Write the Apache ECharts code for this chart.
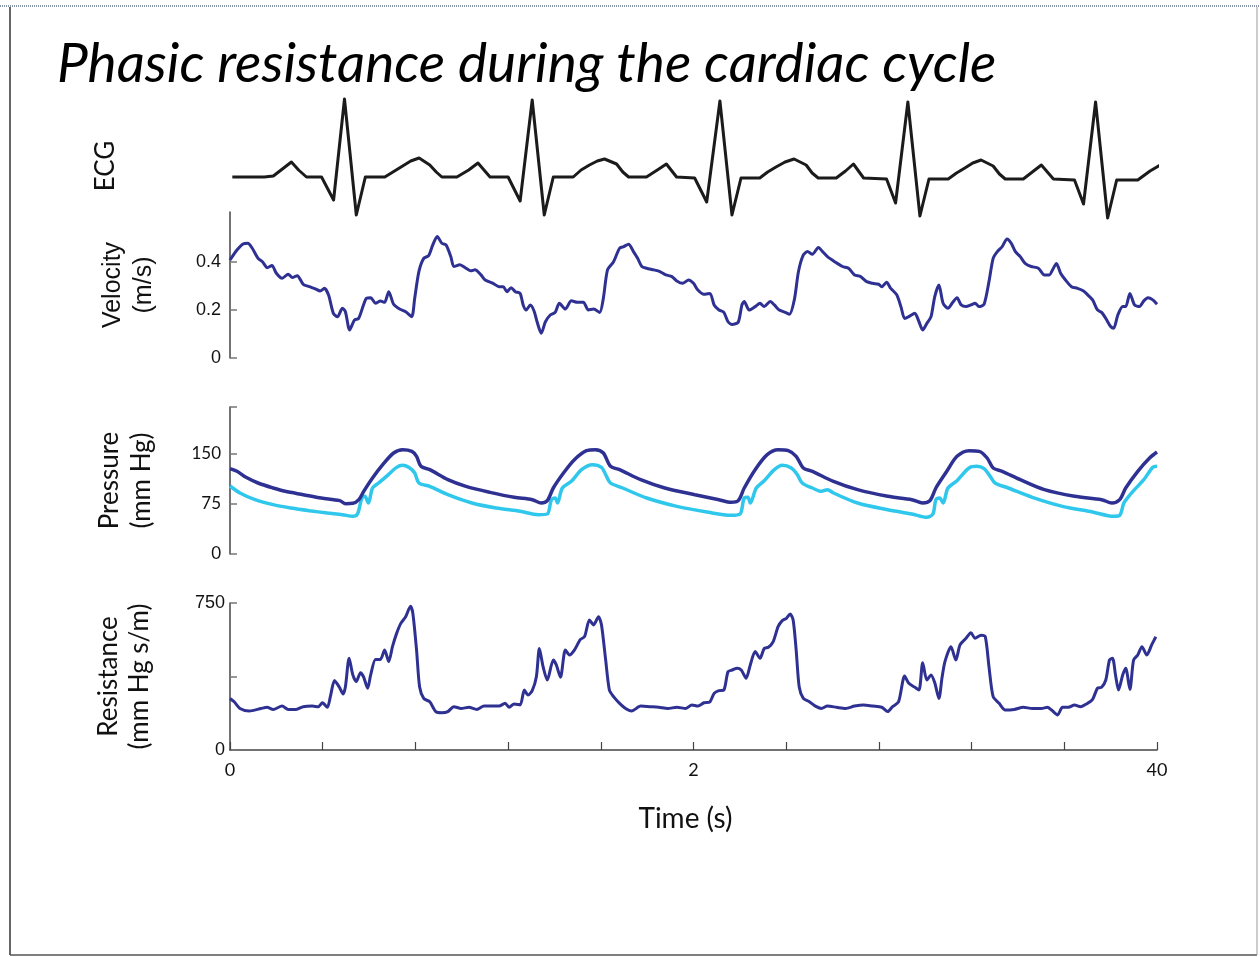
<!DOCTYPE html>
<html>
<head>
<meta charset="utf-8">
<script src="https://cdn.jsdelivr.net/npm/echarts@6/dist/echarts.min.js"></script>
<style>
  html, body { margin: 0; padding: 0; background: #fff; }
  #chart { width: 1260px; height: 957px; }
</style>
</head>
<body>
<div id="chart"></div>
<script>
// ECG trace (time in s, amplitude in arbitrary units)
const ecgTime = [0.010, 0.148, 0.187, 0.226, 0.265, 0.296, 0.330, 0.395, 0.447, 0.494, 0.545, 0.584, 0.668, 0.710, 0.745, 0.780, 0.816, 0.862, 0.890, 0.914, 0.979, 1.030, 1.070, 1.122, 1.200, 1.252, 1.304, 1.356, 1.395, 1.481, 1.515, 1.551, 1.585, 1.616, 1.668, 1.695, 1.720, 1.797, 1.844, 1.883, 1.927, 2.005, 2.057, 2.114, 2.166, 2.205, 2.286, 2.320, 2.356, 2.395, 2.434, 2.486, 2.512, 2.538, 2.616, 2.656, 2.690, 2.734, 2.833, 2.872, 2.925, 2.977, 3.016, 3.099, 3.135, 3.171, 3.205, 3.241, 3.293, 3.320, 3.345, 3.423, 3.462, 3.501, 3.553, 3.644, 3.683, 3.735, 3.787, 3.826, 3.917, 3.970, 4.021];
const ecgAmp = [0, 0, 1, 8, 15, 7, 0, 0, -23, 78, -38, 0, 0, 6, 11, 16, 19, 12, 5, 0, 0, 7, 14, 0, 0, -24, 77, -38, 0, 0, 7, 12, 16, 18, 13, 5, 0, 0, 7, 13, 0, -1, -25, 76, -38, -1, -1, 5, 10, 15, 18, 12, 4, -1, -1, 6, 13, -1, -2, -26, 75, -39, -2, -2, 4, 9, 14, 17, 11, 3, -2, -2, 5, 12, -2, -3, -27, 75, -41, -3, -3, 6, 13];

// Velocity (m/s)
const velTime = [0, 0.030, 0.056, 0.077, 0.096, 0.121, 0.140, 0.161, 0.181, 0.200, 0.225, 0.251, 0.269, 0.290, 0.316, 0.342, 0.368, 0.389, 0.407, 0.425, 0.446, 0.464, 0.485, 0.498, 0.516, 0.537, 0.555, 0.576, 0.589, 0.607, 0.628, 0.649, 0.667, 0.685, 0.706, 0.732, 0.758, 0.784, 0.797, 0.815, 0.836, 0.857, 0.875, 0.894, 0.914, 0.932, 0.953, 0.966, 0.992, 1.018, 1.039, 1.057, 1.083, 1.101, 1.135, 1.161, 1.179, 1.195, 1.213, 1.231, 1.252, 1.265, 1.278, 1.296, 1.312, 1.325, 1.343, 1.361, 1.382, 1.403, 1.421, 1.447, 1.473, 1.499, 1.525, 1.546, 1.569, 1.595, 1.611, 1.629, 1.655, 1.681, 1.699, 1.720, 1.741, 1.759, 1.777, 1.798, 1.829, 1.855, 1.881, 1.907, 1.928, 1.953, 1.979, 2.000, 2.019, 2.045, 2.071, 2.089, 2.110, 2.131, 2.149, 2.167, 2.193, 2.209, 2.219, 2.240, 2.266, 2.287, 2.305, 2.331, 2.349, 2.370, 2.396, 2.414, 2.435, 2.453, 2.474, 2.492, 2.513, 2.539, 2.557, 2.578, 2.609, 2.643, 2.669, 2.695, 2.721, 2.747, 2.773, 2.799, 2.812, 2.833, 2.851, 2.877, 2.895, 2.911, 2.929, 2.955, 2.973, 2.989, 3.007, 3.025, 3.041, 3.059, 3.077, 3.098, 3.119, 3.137, 3.155, 3.176, 3.197, 3.215, 3.233, 3.254, 3.275, 3.293, 3.311, 3.332, 3.353, 3.371, 3.389, 3.410, 3.431, 3.457, 3.488, 3.514, 3.535, 3.553, 3.566, 3.584, 3.605, 3.631, 3.657, 3.683, 3.701, 3.722, 3.743, 3.761, 3.779, 3.800, 3.813, 3.831, 3.852, 3.865, 3.883, 3.903, 3.924, 3.943, 3.961, 3.982, 4.000];
const velValue = [0.408, 0.450, 0.475, 0.478, 0.457, 0.415, 0.401, 0.376, 0.385, 0.353, 0.332, 0.349, 0.335, 0.343, 0.307, 0.297, 0.288, 0.279, 0.290, 0.263, 0.186, 0.172, 0.207, 0.193, 0.117, 0.158, 0.165, 0.221, 0.249, 0.251, 0.228, 0.237, 0.232, 0.276, 0.224, 0.204, 0.193, 0.172, 0.249, 0.360, 0.415, 0.426, 0.471, 0.506, 0.478, 0.471, 0.422, 0.381, 0.388, 0.374, 0.363, 0.367, 0.346, 0.325, 0.311, 0.297, 0.297, 0.276, 0.293, 0.276, 0.269, 0.221, 0.200, 0.221, 0.196, 0.151, 0.103, 0.151, 0.179, 0.190, 0.228, 0.204, 0.238, 0.232, 0.232, 0.200, 0.204, 0.190, 0.249, 0.367, 0.401, 0.457, 0.464, 0.474, 0.443, 0.415, 0.381, 0.374, 0.367, 0.360, 0.346, 0.339, 0.321, 0.311, 0.325, 0.311, 0.283, 0.265, 0.269, 0.221, 0.200, 0.190, 0.151, 0.140, 0.149, 0.221, 0.235, 0.200, 0.214, 0.228, 0.214, 0.235, 0.221, 0.200, 0.190, 0.182, 0.242, 0.360, 0.429, 0.443, 0.432, 0.460, 0.443, 0.422, 0.401, 0.381, 0.374, 0.346, 0.339, 0.318, 0.311, 0.307, 0.297, 0.315, 0.290, 0.263, 0.214, 0.165, 0.172, 0.186, 0.151, 0.117, 0.144, 0.172, 0.256, 0.304, 0.228, 0.207, 0.232, 0.251, 0.221, 0.214, 0.221, 0.228, 0.214, 0.224, 0.318, 0.415, 0.443, 0.464, 0.496, 0.478, 0.443, 0.422, 0.394, 0.381, 0.374, 0.346, 0.346, 0.374, 0.394, 0.353, 0.325, 0.297, 0.290, 0.279, 0.263, 0.242, 0.200, 0.190, 0.165, 0.131, 0.124, 0.179, 0.214, 0.214, 0.269, 0.221, 0.214, 0.238, 0.251, 0.242, 0.224];

// Pressure (mm Hg), upper dark trace
const pressHiTime = [0, 0.030, 0.069, 0.121, 0.186, 0.238, 0.316, 0.394, 0.473, 0.499, 0.530, 0.556, 0.577, 0.615, 0.659, 0.706, 0.745, 0.785, 0.805, 0.824, 0.862, 0.940, 1.018, 1.122, 1.226, 1.304, 1.343, 1.369, 1.395, 1.439, 1.486, 1.538, 1.577, 1.611, 1.642, 1.681, 1.772, 1.876, 2.006, 2.110, 2.162, 2.193, 2.219, 2.266, 2.318, 2.365, 2.409, 2.443, 2.474, 2.513, 2.604, 2.708, 2.838, 2.942, 2.989, 3.020, 3.046, 3.093, 3.137, 3.189, 3.233, 3.267, 3.293, 3.332, 3.410, 3.514, 3.644, 3.761, 3.805, 3.839, 3.865, 3.917, 3.968, 4.000];
const pressHi = [128, 124, 115, 106.5, 99, 94, 89, 84, 80, 75.5, 76, 81.5, 94, 114, 134, 151.5, 156.5, 154, 146.5, 131.5, 126.5, 111.5, 101.5, 92.5, 85, 81.5, 76.5, 80, 99, 121.5, 141.5, 155, 156.5, 151.5, 131.5, 126.5, 111.5, 99, 89, 81.5, 77.5, 80, 99, 126.5, 149, 156.5, 155, 146.5, 129, 124, 109, 96.5, 86.5, 81.5, 76.5, 80, 99, 124, 146.5, 155, 154, 144, 129, 124, 111.5, 96.5, 86.5, 81.5, 76.5, 81.5, 99, 124, 144, 153];

// Pressure (mm Hg), lower cyan trace
const pressLoTime = [0, 0.043, 0.108, 0.186, 0.264, 0.342, 0.420, 0.485, 0.530, 0.550, 0.569, 0.582, 0.597, 0.615, 0.641, 0.675, 0.719, 0.745, 0.771, 0.797, 0.815, 0.862, 0.940, 1.044, 1.148, 1.252, 1.330, 1.369, 1.387, 1.403, 1.413, 1.434, 1.473, 1.517, 1.564, 1.603, 1.621, 1.642, 1.694, 1.798, 1.928, 2.058, 2.162, 2.201, 2.219, 2.235, 2.245, 2.271, 2.305, 2.349, 2.383, 2.422, 2.448, 2.469, 2.513, 2.552, 2.578, 2.604, 2.708, 2.838, 2.942, 3.007, 3.033, 3.046, 3.062, 3.077, 3.098, 3.137, 3.189, 3.223, 3.254, 3.280, 3.301, 3.358, 3.462, 3.592, 3.722, 3.813, 3.839, 3.857, 3.878, 3.903, 3.943, 3.982, 4.000];
const pressLo = [102, 91.5, 81.5, 74, 69, 65, 61.5, 59, 56.5, 60, 84, 86.5, 76.5, 99, 106.5, 116.5, 130, 133, 130, 121.5, 106.5, 101.5, 89, 76.5, 69, 64, 59, 60, 81.5, 84, 76.5, 99, 109, 126.5, 134, 130, 119, 106.5, 99, 84, 71.5, 63, 58, 60, 84, 85, 76.5, 99, 110, 126.5, 133, 129, 119, 106.5, 99, 94, 96.5, 91.5, 76.5, 66.5, 60, 55, 60, 81.5, 84, 76.5, 99, 110, 129, 131.5, 128, 116.5, 106.5, 99, 85, 71.5, 63, 56.5, 58, 76.5, 86.5, 96.5, 111.5, 130, 131.5];

// Resistance (mm Hg s/m)
const resTime = [0, 0.018, 0.043, 0.083, 0.134, 0.160, 0.186, 0.225, 0.251, 0.285, 0.316, 0.355, 0.381, 0.399, 0.420, 0.433, 0.451, 0.472, 0.488, 0.498, 0.514, 0.530, 0.545, 0.563, 0.576, 0.594, 0.607, 0.628, 0.649, 0.667, 0.685, 0.701, 0.719, 0.737, 0.758, 0.779, 0.789, 0.805, 0.818, 0.836, 0.862, 0.888, 0.914, 0.940, 0.966, 0.997, 1.031, 1.065, 1.096, 1.135, 1.161, 1.187, 1.205, 1.226, 1.252, 1.270, 1.286, 1.304, 1.322, 1.335, 1.351, 1.369, 1.395, 1.408, 1.426, 1.447, 1.465, 1.486, 1.512, 1.530, 1.551, 1.569, 1.590, 1.603, 1.621, 1.637, 1.655, 1.681, 1.707, 1.733, 1.772, 1.811, 1.850, 1.889, 1.928, 1.967, 1.993, 2.019, 2.045, 2.071, 2.089, 2.110, 2.131, 2.149, 2.167, 2.188, 2.206, 2.227, 2.245, 2.266, 2.287, 2.305, 2.323, 2.344, 2.365, 2.383, 2.401, 2.417, 2.430, 2.443, 2.456, 2.474, 2.500, 2.526, 2.552, 2.578, 2.617, 2.656, 2.695, 2.734, 2.773, 2.812, 2.838, 2.859, 2.885, 2.911, 2.929, 2.955, 2.973, 2.989, 3.007, 3.025, 3.041, 3.059, 3.072, 3.085, 3.111, 3.132, 3.150, 3.176, 3.197, 3.215, 3.241, 3.259, 3.275, 3.293, 3.319, 3.345, 3.384, 3.423, 3.462, 3.501, 3.527, 3.545, 3.571, 3.592, 3.618, 3.644, 3.670, 3.696, 3.722, 3.743, 3.761, 3.779, 3.795, 3.808, 3.821, 3.834, 3.852, 3.865, 3.883, 3.899, 3.917, 3.935, 3.956, 3.977, 3.995];
const resValue = [263, 246, 212, 199, 212, 218, 207, 224, 207, 207, 221, 224, 221, 241, 218, 272, 354, 320, 286, 323, 468, 383, 349, 394, 374, 315, 383, 462, 462, 510, 451, 527, 595, 646, 680, 734, 697, 510, 323, 263, 246, 196, 190, 196, 221, 212, 218, 207, 224, 224, 224, 238, 218, 235, 230, 306, 280, 303, 374, 518, 425, 357, 459, 434, 371, 510, 485, 510, 564, 578, 663, 638, 680, 638, 459, 306, 272, 238, 212, 199, 224, 221, 218, 212, 218, 212, 230, 224, 241, 246, 289, 303, 306, 400, 408, 417, 408, 366, 434, 502, 468, 518, 524, 553, 629, 660, 672, 694, 663, 510, 323, 263, 246, 224, 212, 224, 218, 212, 224, 230, 224, 218, 196, 221, 246, 377, 340, 320, 306, 445, 357, 383, 343, 263, 366, 451, 527, 459, 536, 570, 598, 570, 586, 578, 425, 272, 238, 204, 207, 218, 212, 212, 218, 204, 179, 218, 218, 230, 221, 235, 258, 315, 320, 357, 459, 468, 383, 306, 383, 417, 309, 459, 485, 527, 485, 536, 578, 595];

// x axis labels shown under the time axis
const timeLabelValues = [0, 2, 4];
const timeLabelText = ['0', '2', '40'];

const zip = (xs, ys) => xs.map((x, i) => [x, ys[i]]);

const DARK = '#2E3192';
const CYAN = '#2FC7EC';
const AXIS = '#444';
const CALIBRI = 'Lato, "Open Sans", sans-serif';
const ARIAL = '"Liberation Sans", Arial, sans-serif';

const chart = echarts.init(document.getElementById('chart'));

const gridLeft = 230;
const gridWidth = 927;

const hiddenX = (gridIndex) => ({
  type: 'value', gridIndex, min: 0, max: 4, show: false
});

const option = {
  backgroundColor: '#fff',
  animation: false,
  title: {
    text: 'Phasic resistance during the cardiac cycle',
    left: 52,
    top: 32,
    textStyle: {
      fontFamily: CALIBRI,
      fontStyle: 'italic',
      fontWeight: 'normal',
      fontSize: 55,
      color: '#000'
    }
  },
  graphic: [
    // page frame
    { type: 'line', shape: { x1: 0, y1: 6, x2: 1260, y2: 6 }, style: { stroke: '#8a97a8', lineWidth: 2, lineDash: [1, 1] } },
    { type: 'line', shape: { x1: 10, y1: 7, x2: 10, y2: 955 }, style: { stroke: '#333', lineWidth: 1.5 } },
    { type: 'line', shape: { x1: 10, y1: 955, x2: 1257, y2: 955 }, style: { stroke: '#555', lineWidth: 1.5 } },
    { type: 'line', shape: { x1: 1257, y1: 7, x2: 1257, y2: 955 }, style: { stroke: '#999', lineWidth: 1 } }
  ],
  grid: [
    { left: gridLeft, width: gridWidth, top: 97, height: 125 },   // ECG
    { left: gridLeft, width: gridWidth, top: 212, height: 146 },  // velocity
    { left: gridLeft, width: gridWidth, top: 407, height: 147 },  // pressure
    { left: gridLeft, width: gridWidth, top: 603, height: 147 }   // resistance
  ],
  xAxis: [
    hiddenX(0),
    hiddenX(1),
    hiddenX(2),
    {
      type: 'value',
      gridIndex: 3,
      min: 0,
      max: 4,
      interval: 0.4,
      name: 'Time (s)',
      nameLocation: 'middle',
      nameGap: 55,
      nameTextStyle: { fontFamily: CALIBRI, fontSize: 28, color: '#111', padding: [0, 16, 0, 0] },
      axisLine: { lineStyle: { color: AXIS, width: 1.5 } },
      axisTick: { inside: true, length: 8, lineStyle: { color: AXIS, width: 1.2 } },
      axisLabel: {
        customValues: timeLabelValues,
        formatter: (v) => timeLabelText[timeLabelValues.indexOf(v)],
        fontFamily: CALIBRI,
        fontSize: 18,
        color: '#111',
        margin: 11
      },
      splitLine: { show: false }
    }
  ],
  yAxis: [
    {
      type: 'value', gridIndex: 0, min: -45, max: 80,
      name: 'ECG', nameLocation: 'middle', nameRotate: 90, nameGap: 111,
      nameTextStyle: { fontFamily: CALIBRI, fontSize: 26, color: '#111', padding: [0, 13, 0, 0] },
      axisLine: { show: false }, axisTick: { show: false }, axisLabel: { show: false },
      splitLine: { show: false }
    },
    {
      type: 'value', gridIndex: 1, min: 0, max: 0.608,
      name: 'Velocity\n(m/s)', nameLocation: 'middle', nameRotate: 90, nameGap: 70,
      nameTextStyle: { fontFamily: ARIAL, fontSize: 25, color: '#111', lineHeight: 31 },
      axisLine: { lineStyle: { color: AXIS, width: 1.5 } },
      axisTick: { inside: true, length: 7, customValues: [0, 0.2, 0.4], lineStyle: { color: '#777', width: 1.5 } },
      axisLabel: { customValues: [0, 0.2, 0.4], fontFamily: ARIAL, fontSize: 18, color: '#111', margin: 9 },
      splitLine: { show: false }
    },
    {
      type: 'value', gridIndex: 2, min: 0, max: 220.5,
      name: 'Pressure\n(mm Hg)', nameLocation: 'middle', nameRotate: 90, nameGap: 72,
      nameTextStyle: { fontFamily: CALIBRI, fontSize: 26, color: '#111', lineHeight: 32 },
      axisLine: { lineStyle: { color: AXIS, width: 1.5 } },
      axisTick: { inside: true, length: 7, customValues: [0, 75, 150, 220.5], lineStyle: { color: '#777', width: 1.5 } },
      axisLabel: { customValues: [0, 75, 150], fontFamily: CALIBRI, fontSize: 17, color: '#111', margin: 9 },
      splitLine: { show: false }
    },
    {
      type: 'value', gridIndex: 3, min: 0, max: 750,
      name: 'Resistance\n(mm Hg s/m)', nameLocation: 'middle', nameRotate: 90, nameGap: 75,
      nameTextStyle: { fontFamily: CALIBRI, fontSize: 26, color: '#111', lineHeight: 31 },
      axisLine: { lineStyle: { color: AXIS, width: 1.5 } },
      axisTick: { inside: true, length: 7, customValues: [0, 375, 750], lineStyle: { color: '#777', width: 1.5 } },
      axisLabel: { customValues: [0, 750], fontFamily: ARIAL, fontSize: 18, color: '#111', margin: 5 },
      splitLine: { show: false }
    }
  ],
  series: [
    {
      name: 'ECG', type: 'line', xAxisIndex: 0, yAxisIndex: 0,
      data: zip(ecgTime, ecgAmp), showSymbol: false, clip: false,
      lineStyle: { color: '#1b1b1b', width: 3, join: 'round' }
    },
    {
      name: 'Velocity', type: 'line', xAxisIndex: 1, yAxisIndex: 1,
      data: zip(velTime, velValue), showSymbol: false, smooth: 0.25,
      lineStyle: { color: DARK, width: 3 }
    },
    {
      name: 'Pressure low', type: 'line', xAxisIndex: 2, yAxisIndex: 2,
      data: zip(pressLoTime, pressLo), showSymbol: false, smooth: 0.3,
      lineStyle: { color: CYAN, width: 3.5 }
    },
    {
      name: 'Pressure high', type: 'line', xAxisIndex: 2, yAxisIndex: 2,
      data: zip(pressHiTime, pressHi), showSymbol: false, smooth: 0.3,
      lineStyle: { color: DARK, width: 3.5 }
    },
    {
      name: 'Resistance', type: 'line', xAxisIndex: 3, yAxisIndex: 3,
      data: zip(resTime, resValue), showSymbol: false, smooth: 0.25,
      lineStyle: { color: DARK, width: 3 }
    }
  ]
};

chart.setOption(option);
</script>
</body>
</html>
